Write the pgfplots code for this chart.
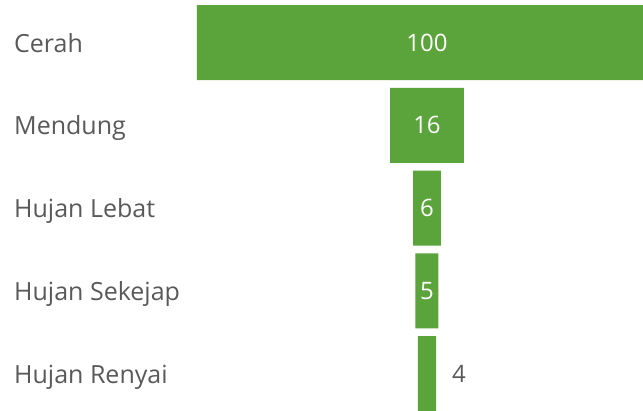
\documentclass[border=0pt]{standalone}
\usepackage{pgfplots}
\pgfplotsset{compat=1.18}
\usepackage{pgfplotstable}
\usepackage{fontspec}
\setmainfont{Open Sans}
\definecolor{barg}{HTML}{5BA33B}
\definecolor{txtg}{HTML}{595959}
\pgfplotstableread{
y off val
0 0 100
1 42 16
2 47 6
3 47.5 5
4 48 4
}\funnel
\begin{document}
\fontsize{25bp}{30bp}\selectfont
\begin{tikzpicture}
\begin{axis}[
  scale only axis, width=446bp, height=411bp,
  xmin=0, xmax=96.96, ymin=-0.514, ymax=4.453,
  y dir=reverse, axis lines=none, ticks=none,
  xbar stacked, bar width=75bp,
  clip mode=individual,
]
\addplot[draw=none, fill=none] table[x=off, y=y] {\funnel};
\addplot[draw=none, fill=barg] table[x=val, y=y] {\funnel};
\coordinate (L0) at (axis cs:0,0);
\coordinate (L1) at (axis cs:0,1);
\coordinate (L2) at (axis cs:0,2);
\coordinate (L3) at (axis cs:0,3);
\coordinate (L4) at (axis cs:0,4);
\coordinate (C0) at (axis cs:50,0);
\coordinate (C1) at (axis cs:50,1);
\coordinate (C2) at (axis cs:50,2);
\coordinate (C3) at (axis cs:50,3);
\coordinate (O4) at (axis cs:55.4,4);
\end{axis}
\foreach \lab [count=\i from 0] in {Cerah,Mendung,Hujan Lebat,Hujan Sekejap,Hujan Renyai}{
  \node[anchor=base west, inner sep=0pt, text=txtg] at ([xshift=-183bp,yshift=-9.5bp]L\i) {\lab};
}
\begin{scope}[every node/.style={anchor=base, inner sep=0pt, font=\fontsize{24bp}{28bp}\selectfont}]
\node[text=white] at ([yshift=-8.5bp]C0) {100};
\node[text=white] at ([yshift=-8.5bp]C1) {16};
\node[text=white] at ([yshift=-8.5bp]C2) {6};
\node[text=white] at ([yshift=-8.5bp]C3) {5};
\node[anchor=base west, text=txtg] at ([yshift=-8.5bp]O4) {4};
\end{scope}
\pgfresetboundingbox
\path ([xshift=-197bp]current axis.south west) rectangle (current axis.north east);
\end{tikzpicture}
\end{document}
